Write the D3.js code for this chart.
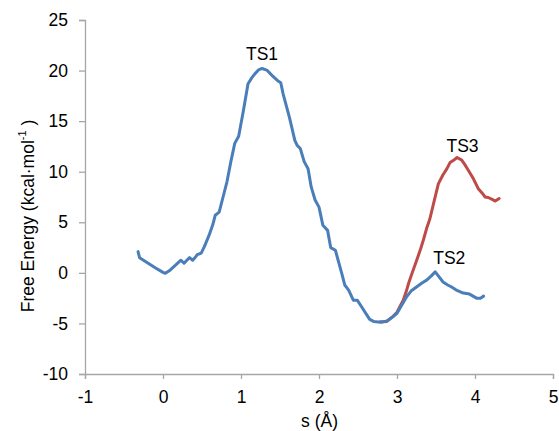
<!DOCTYPE html>
<html>
<head>
<meta charset="utf-8">
<script src="https://cdn.jsdelivr.net/npm/d3@7"></script>
<style>
  html, body { margin: 0; padding: 0; background: #fff; }
  svg { display: block; }
  text { font-family: "Liberation Sans", Arial, sans-serif; fill: #000; }
</style>
</head>
<body>
<svg id="chart" width="559" height="431"></svg>
<script>
// ---- Data ----
const blueS = [-0.32,-0.30,-0.27,-0.20,-0.10,0.00,0.03,0.08,0.15,0.23,0.27,0.30,0.34,0.38,0.42,0.44,0.49,0.53,0.59,0.64,0.67,0.72,0.77,0.82,0.87,0.92,0.97,1.03,1.09,1.14,1.18,1.23,1.27,1.33,1.40,1.47,1.51,1.54,1.62,1.69,1.72,1.76,1.81,1.86,1.90,1.95,2.00,2.05,2.11,2.15,2.21,2.25,2.29,2.33,2.38,2.44,2.49,2.55,2.60,2.65,2.70,2.76,2.82,2.87,2.93,3.00,3.06,3.12,3.18,3.25,3.32,3.38,3.44,3.49,3.54,3.59,3.65,3.70,3.76,3.85,3.93,4.02,4.07,4.11];
const blueE = [2.1,1.5,1.35,1.0,0.5,0.05,-0.05,0.2,0.7,1.25,0.95,1.2,1.5,1.25,1.6,1.8,1.95,2.6,3.7,4.8,5.7,6.0,7.5,9.0,11.0,12.8,13.5,16.0,18.7,19.3,19.7,20.1,20.2,20.05,19.5,19.0,18.8,17.7,15.4,13.1,12.6,12.3,11.0,10.3,8.5,7.2,6.5,4.7,4.2,2.5,2.24,1.1,0.0,-1.2,-1.7,-2.7,-2.7,-3.4,-4.0,-4.6,-4.8,-4.85,-4.85,-4.75,-4.45,-4.0,-3.2,-2.4,-1.8,-1.4,-1.0,-0.72,-0.3,0.1,-0.4,-0.9,-1.2,-1.4,-1.7,-2.0,-2.1,-2.5,-2.5,-2.3];

const redS = [2.78,2.87,2.95,3.00,3.04,3.08,3.12,3.15,3.19,3.25,3.30,3.34,3.38,3.42,3.47,3.53,3.59,3.64,3.68,3.72,3.77,3.83,3.87,3.91,3.98,4.04,4.09,4.13,4.17,4.22,4.26,4.31];
const redE = [-4.85,-4.8,-4.3,-3.9,-3.3,-2.7,-1.8,-1.0,-0.1,1.2,2.3,3.3,4.4,5.3,6.9,8.8,9.7,10.3,10.9,11.1,11.4,11.15,10.7,10.2,9.3,8.35,7.9,7.5,7.45,7.26,7.1,7.35];

const labelText = ["TS1", "TS2", "TS3"];
const labelS = [1.27, 3.67, 3.84];
const labelE = [21.0, 0.86, 11.97];

const xTicks = [-1, 0, 1, 2, 3, 4, 5];
const yTicks = [-10, -5, 0, 5, 10, 15, 20, 25];

// ---- Layout ----
const W = 559, H = 431;
const margin = { left: 85, right: 6, top: 20, bottom: 57 };
const svg = d3.select("#chart");

const x = d3.scaleLinear().domain([-1, 5]).range([margin.left, W - margin.right]);
const y = d3.scaleLinear().domain([-10, 25]).range([H - margin.bottom, margin.top]);

const axisColor = "#a6a6a6";

// X axis
const gx = svg.append("g")
  .attr("transform", `translate(0,${y(-10)})`)
  .call(d3.axisBottom(x).tickValues(xTicks).tickSize(5).tickPadding(12).tickFormat(d3.format("d")));
// Y axis
const gy = svg.append("g")
  .attr("transform", `translate(${x(-1)},0)`)
  .call(d3.axisLeft(y).tickValues(yTicks).tickSize(6).tickPadding(11).tickFormat(d3.format("d")));

[gx, gy].forEach(g => {
  g.select(".domain").attr("stroke", axisColor).attr("stroke-width", 1.3);
  g.selectAll(".tick line").attr("stroke", axisColor).attr("stroke-width", 1.3);
  g.selectAll(".tick text")
    .attr("font-family", '"Liberation Sans", Arial, sans-serif')
    .attr("font-size", 17.5)
    .attr("fill", "#000");
});
// Replace hyphen with proper look (keep as "-" like reference)
gx.selectAll(".tick text").text(d => String(d));
gy.selectAll(".tick text").text(d => String(d));

// Lines
const line = d3.line().x(d => x(d[0])).y(d => y(d[1]));
const blueData = blueS.map((s, i) => [s, blueE[i]]);
const redData = redS.map((s, i) => [s, redE[i]]);

svg.append("path").datum(redData)
  .attr("d", line).attr("fill", "none")
  .attr("stroke", "#BE4B48").attr("stroke-width", 3)
  .attr("stroke-linejoin", "round").attr("stroke-linecap", "round");
svg.append("path").datum(blueData)
  .attr("d", line).attr("fill", "none")
  .attr("stroke", "#4A7EBB").attr("stroke-width", 3)
  .attr("stroke-linejoin", "round").attr("stroke-linecap", "round");

// Annotations
svg.selectAll(".ts").data(labelText).enter().append("text")
  .attr("class", "ts")
  .attr("x", (d, i) => x(labelS[i]))
  .attr("y", (d, i) => y(labelE[i]))
  .attr("text-anchor", "middle")
  .attr("font-size", 17.5)
  .text(d => d);

// Axis titles
svg.append("text")
  .attr("x", (x(-1) + x(5)) / 2 + 0.5)
  .attr("y", 427)
  .attr("text-anchor", "middle")
  .attr("font-size", 17.5)
  .text("s (Å)");

const yt = svg.append("text")
  .attr("transform", `translate(34,216) rotate(-90)`)
  .attr("text-anchor", "middle")
  .attr("font-size", 17.5);
yt.append("tspan").text("Free Energy (kcal·mol");
yt.append("tspan").attr("font-size", 11).attr("dy", -8).text("-1");
yt.append("tspan").attr("dy", 8).text(" )");
</script>
</body>
</html>
